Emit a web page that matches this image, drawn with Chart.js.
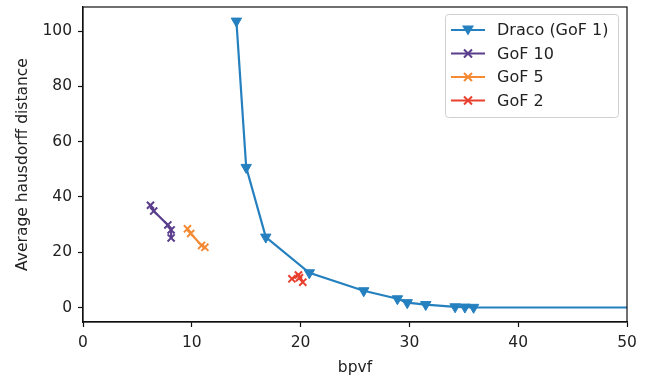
<!DOCTYPE html>
<html>
<head>
<meta charset="utf-8">
<script src="https://cdn.jsdelivr.net/npm/chart.js@4/dist/chart.umd.min.js"></script>
<style>
  html, body { margin: 0; padding: 0; background: #fff; }
  #wrap { width: 656px; height: 377px; }
</style>
</head>
<body>
<div id="wrap"><canvas id="chart" width="656" height="377"></canvas></div>
<script>
// data
const dracoX = [14.1, 15.0, 16.8, 20.8, 25.8, 28.9, 29.8, 31.5, 34.2, 35.1, 35.9, 60];
const dracoY = [103.6, 50.7, 25.5, 12.6, 6.1, 3.2, 1.8, 1.1, 0.3, 0.2, 0.1, 0];
const gof10X = [6.2, 6.5, 7.8, 8.1, 8.1];
const gof10Y = [37.0, 34.9, 29.9, 28.1, 25.2];
const gof5X = [9.6, 9.9, 10.9, 11.2];
const gof5Y = [28.5, 26.8, 22.5, 21.8];
const gof2X = [19.2, 19.8, 20.2, 19.9];
const gof2Y = [10.4, 11.8, 9.2, 10.8];
const xTicks = [0, 10, 20, 30, 40, 50];
const yTicks = [0, 20, 40, 60, 80, 100];
const seriesNames = ["Draco (GoF 1)", "GoF 10", "GoF 5", "GoF 2"];

const COLORS = ["#2580bf", "#5a3d8c", "#f58a35", "#e8402e"];
const FONT = "DejaVu Sans";
const TEXT = "#222";
const FSIZE = 15.5;

function pts(xs, ys) {
  return xs.map((x, i) => ({ x: x, y: ys[i] }));
}

// =======================
// Plugins
// =======================
// matplotlib-style frame around the plot area
const framePlugin = {
  id: "frame",
  afterDraw(chart) {
    const { ctx, chartArea: a } = chart;
    ctx.save();
    ctx.strokeStyle = "#111";
    ctx.lineWidth = 1.2;
    ctx.strokeRect(a.left, a.top, a.right - a.left, a.bottom - a.top);
    ctx.restore();
  }
};

function drawMarker(ctx, style, x, y, color) {
  ctx.save();
  ctx.fillStyle = color;
  ctx.strokeStyle = color;
  if (style === "tri") {
    ctx.beginPath();
    ctx.moveTo(x - 6, y - 4.5);
    ctx.lineTo(x + 6, y - 4.5);
    ctx.lineTo(x, y + 5.5);
    ctx.closePath();
    ctx.fill();
  } else {
    ctx.lineWidth = 2;
    ctx.beginPath();
    ctx.moveTo(x - 4, y - 4); ctx.lineTo(x + 4, y + 4);
    ctx.moveTo(x + 4, y - 4); ctx.lineTo(x - 4, y + 4);
    ctx.stroke();
  }
  ctx.restore();
}

// legend drawn inside the plot, top right
const legendPlugin = {
  id: "innerLegend",
  afterDraw(chart) {
    const { ctx } = chart;
    const bx = 445, by = 14, bw = 173, bh = 103;
    ctx.save();
    ctx.fillStyle = "rgba(255,255,255,0.85)";
    ctx.strokeStyle = "#d0d0d0";
    ctx.lineWidth = 1;
    ctx.beginPath();
    ctx.roundRect(bx + 0.5, by + 0.5, bw, bh, 3);
    ctx.fill();
    ctx.stroke();
    ctx.font = "16px '" + FONT + "'";
    ctx.textBaseline = "middle";
    seriesNames.forEach((name, i) => {
      const y = 30 + i * 23.5;
      ctx.strokeStyle = COLORS[i];
      ctx.lineWidth = 2.2;
      ctx.beginPath();
      ctx.moveTo(451, y);
      ctx.lineTo(485, y);
      ctx.stroke();
      drawMarker(ctx, i === 0 ? "tri" : "x", 468, y, COLORS[i]);
      ctx.fillStyle = TEXT;
      ctx.fillText(name, 497, y + 1);
    });
    ctx.restore();
  }
};

function makeSet(label, data, color, triangle) {
  return {
    label: label,
    data: data,
    showLine: true,
    borderColor: color,
    backgroundColor: color,
    borderWidth: 2.2,
    pointStyle: triangle ? "triangle" : "crossRot",
    pointRotation: triangle ? 180 : 0,
    pointRadius: triangle ? 6 : 5,
    pointBorderWidth: triangle ? 1 : 2,
    pointHoverRadius: 5,
    tension: 0
  };
}

new Chart(document.getElementById("chart"), {
  type: "scatter",
  data: {
    datasets: [
      makeSet(seriesNames[0], pts(dracoX, dracoY), COLORS[0], true),
      makeSet(seriesNames[1], pts(gof10X, gof10Y), COLORS[1], false),
      makeSet(seriesNames[2], pts(gof5X, gof5Y), COLORS[2], false),
      makeSet(seriesNames[3], pts(gof2X, gof2Y), COLORS[3], false)
    ]
  },
  options: {
    responsive: false,
    animation: false,
    layout: { padding: { left: 0, right: 29, top: 5, bottom: 0 } },
    plugins: {
      legend: { display: false },
      tooltip: { enabled: false }
    },
    scales: {
      x: {
        type: "linear",
        min: 0,
        max: 50,
        afterBuildTicks: s => { s.ticks = xTicks.map(v => ({ value: v })); },
        afterFit: s => { s.height = 55; s.paddingLeft = 0; s.paddingRight = 0; },
        grid: { drawOnChartArea: false, color: "#111", tickLength: 5, tickWidth: 1.2 },
        border: { color: "#111", width: 1.2 },
        ticks: { color: TEXT, font: { family: FONT, size: FSIZE }, padding: 7, maxRotation: 0 },
        title: { display: true, text: "bpvf", color: TEXT, font: { family: FONT, size: FSIZE }, padding: { top: 0, bottom: 0 } }
      },
      y: {
        type: "linear",
        min: -5.2,
        max: 108.7,
        afterBuildTicks: s => { s.ticks = yTicks.map(v => ({ value: v })); },
        afterFit: s => { s.width = 83; s.paddingTop = 0; s.paddingBottom = 0; },
        grid: { drawOnChartArea: false, color: "#111", tickLength: 5, tickWidth: 1.2 },
        border: { color: "#111", width: 1.2 },
        ticks: { color: TEXT, font: { family: FONT, size: FSIZE }, padding: 6 },
        title: { display: true, text: "Average hausdorff distance", color: TEXT, font: { family: FONT, size: FSIZE }, padding: { top: 14, bottom: 0 } }
      }
    }
  },
  plugins: [framePlugin, legendPlugin]
});
</script>
</body>
</html>
